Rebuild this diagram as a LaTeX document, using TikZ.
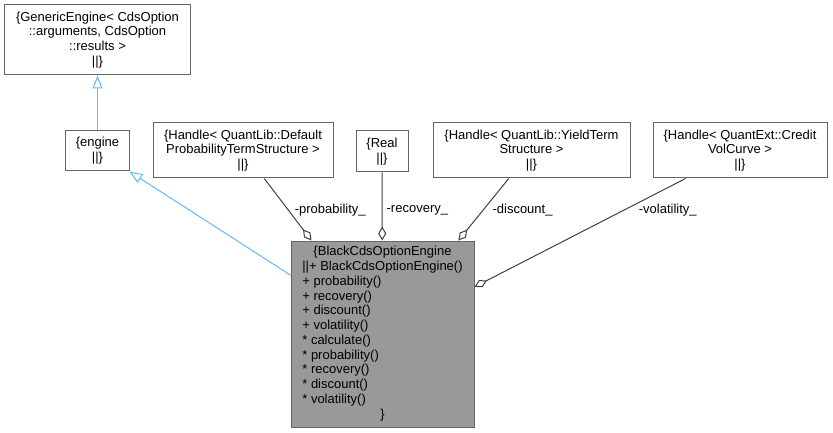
\documentclass[tikz,border=0pt]{standalone}
\usepackage{fontspec}
\setmainfont{Liberation Sans}
\usetikzlibrary{arrows.meta}
\definecolor{cB}{RGB}{102,102,102}
\definecolor{cE}{RGB}{64,64,64}
\definecolor{cF}{RGB}{153,153,153}
\definecolor{cI}{RGB}{99,184,255}

\begin{document}
\begin{tikzpicture}[x=1pt, y=-1pt, line width=1pt,
                    every node/.style={font=\fontsize{13}{14.75}\selectfont},
                    cls/.style={draw=cB, fill=white, align=center, inner sep=3pt},
                    agg/.style={draw=cE, -{Diamond[fill=white, length=14pt, width=8pt]}},
                    inh/.style={draw=cI, -{Triangle[fill=white, length=13pt, width=10pt]}},
                    lbl/.style={anchor=west, inner sep=0pt}]
    \useasboundingbox (0,0) rectangle (833,433);

    % Nodes (Format: {Class || members})
    \node[cls, minimum width=186, minimum height=70] (GenEng) at (97.5,40)
        {\{GenericEngine< CdsOption\\::arguments, CdsOption\\::results >\\||\}};
    \node[cls, minimum width=64, minimum height=40] (engine) at (97.5,151) {\{engine\\||\}};
    \node[cls, minimum width=180, minimum height=55] (Default) at (243,150.5)
        {\{Handle< QuantLib::Default\\ProbabilityTermStructure >\\||\}};
    \node[cls, minimum width=52, minimum height=41] (Real) at (382,151.5) {\{Real\\||\}};
    \node[cls, minimum width=197, minimum height=55] (Yield) at (531.5,150.5)
        {\{Handle< QuantLib::YieldTerm\\Structure >\\||\}};
    \node[cls, minimum width=174, minimum height=55] (Credit) at (740,150.5)
        {\{Handle< QuantExt::Credit\\VolCurve >\\||\}};
    \node[cls, fill=cF, minimum width=183, minimum height=186] (Black) at (382.5,334)
        {\begin{tabular}{@{}l@{}}
         \multicolumn{1}{@{}c@{}}{\{BlackCdsOptionEngine}\\
         ||+ BlackCdsOptionEngine()\\
         + probability()\\
         + recovery()\\
         + discount()\\
         + volatility()\\
         {*} calculate()\\
         {*} probability()\\
         {*} recovery()\\
         {*} discount()\\
         {*} volatility()\\
         \multicolumn{1}{@{}c@{}}{\}}
         \end{tabular}};

    % Edges
    \draw[inh] (engine) -- (GenEng);
    \draw[inh] (Black) -- (engine);

    \path
    (Default) edge[agg] node[lbl, pos=.51, xshift=6] {-probability\_} (Black)
    (Real)    edge[agg] node[lbl, pos=.55, xshift=4] {-recovery\_} (Black)
    (Yield)   edge[agg] node[lbl, pos=.51, xshift=9] {-discount\_} (Black)
    (Credit)  edge[agg] node[lbl, pos=.29, xshift=14] {-volatility\_} (Black);

\end{tikzpicture}
\end{document}
